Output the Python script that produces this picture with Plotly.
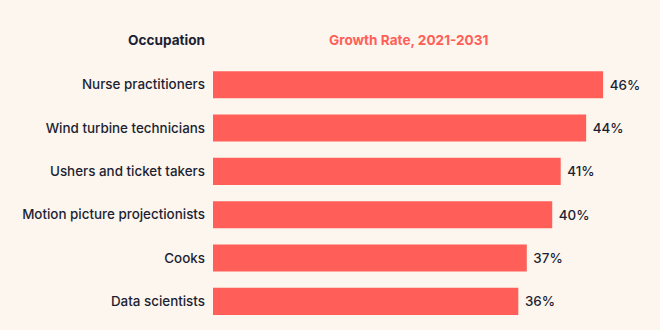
import plotly.graph_objects as go

occupations = ["Nurse practitioners", "Wind turbine technicians", "Ushers and ticket takers",
               "Motion picture projectionists", "Cooks", "Data scientists"]
growth = [46, 44, 41, 40, 37, 36]
header_left = "Occupation"
header_right = "Growth Rate, 2021-2031"

BG = "#fdf6ee"
BAR = "#ff5f58"
DARK = "#1c1f33"
FONT = "Inter, Roboto, sans-serif"
FS = 13.6
FL = 13.4

fig = go.Figure(go.Bar(
    x=growth, y=occupations, orientation="h",
    marker=dict(color=BAR, line=dict(width=0)),
    text=[f" {v}%" for v in growth], textposition="outside",
    textfont=dict(family=FONT, size=FL, color=DARK, weight=500),
    cliponaxis=False, hoverinfo="skip",
))

fig.update_layout(
    width=660, height=330,
    margin=dict(l=213, r=6, t=63, b=7),
    paper_bgcolor=BG, plot_bgcolor=BG,
    bargap=0.375, showlegend=False,
    font=dict(family=FONT, size=FS, color=DARK),
    xaxis=dict(range=[0, 52], visible=False, fixedrange=True),
    yaxis=dict(autorange="reversed", showgrid=False, zeroline=False, showline=False,
               ticks="", ticklabelstandoff=7,
               tickfont=dict(family=FONT, size=FL, color=DARK, weight=500)),
    annotations=[
        dict(text=f"<b>{header_left}</b>", xref="paper", yref="paper", x=0, y=1.088,
             xanchor="right", yanchor="middle", xshift=-6, showarrow=False,
             font=dict(family=FONT, size=FS, color=DARK)),
        dict(text=f"<b>{header_right}</b>", xref="x", yref="paper", x=max(growth) / 2, y=1.088,
             xanchor="center", yanchor="middle", showarrow=False,
             font=dict(family=FONT, size=FS, color=BAR)),
    ],
)

fig.write_html("out.html")
